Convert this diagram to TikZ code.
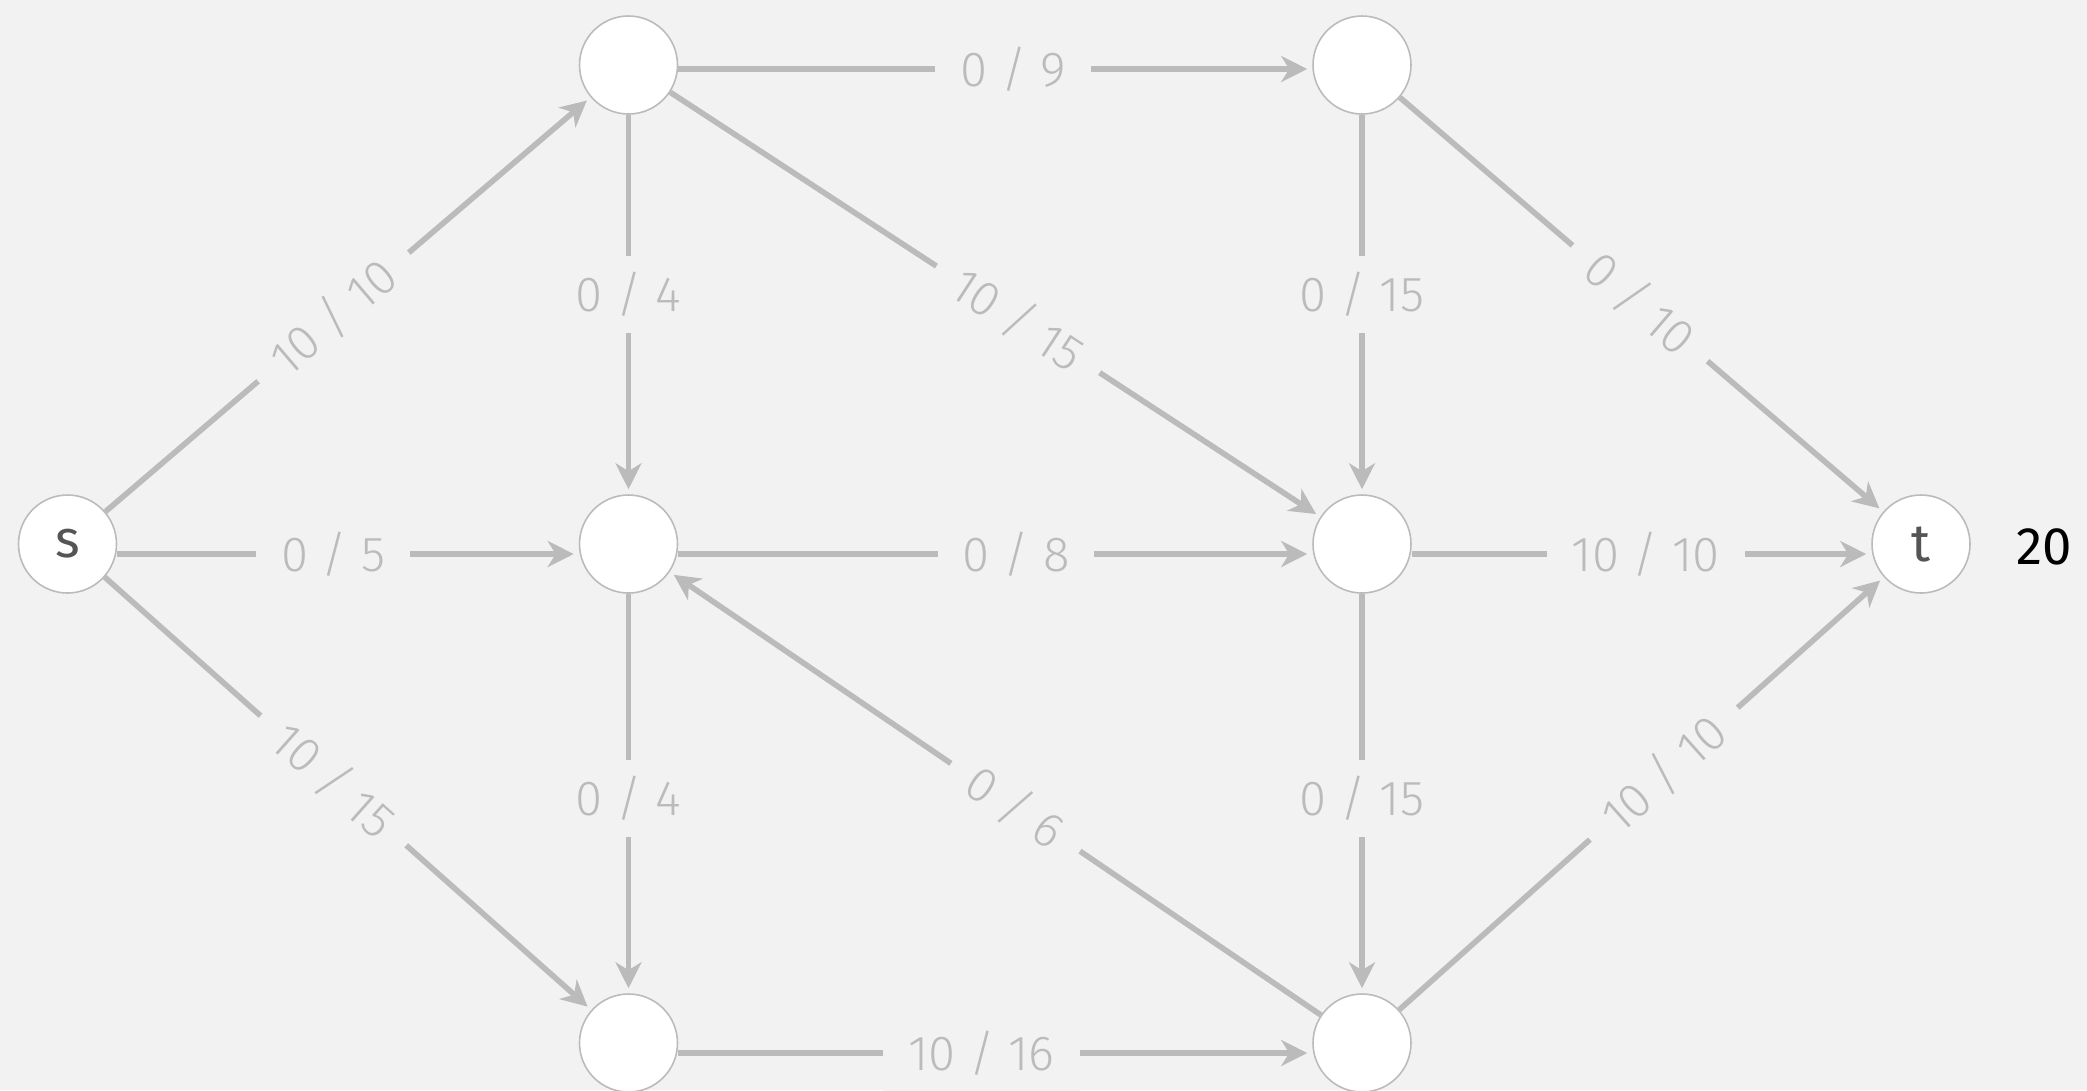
\documentclass[tikz,border=0pt]{standalone}
\usepackage{fontspec}
\setmainfont{Fira Sans Light}
\newfontfamily\namefont{Fira Sans}
\usepackage{xcolor}
\usetikzlibrary{arrows.meta}
\definecolor{bgcol}{HTML}{F2F2F2}
\definecolor{edgecol}{HTML}{BBBBBB}
\definecolor{namecol}{HTML}{555555}
\begin{document}
\begin{tikzpicture}[
    vertex/.style={circle,draw=edgecol,line width=0.45pt,fill=white,minimum size=9.8mm,
        inner sep=0pt,text=namecol,font=\namefont\fontsize{15}{16}\selectfont},
    flowedge/.style={draw=edgecol,line width=1.6pt,
        -{Stealth[length=2.6mm,width=2.6mm,inset=0.8mm]},shorten >=0.5mm},
    flowlabel/.style={fill=bgcol,text=edgecol,inner xsep=2.5mm,inner ysep=1.6mm,
        font=\fontsize{14}{16}\selectfont}]
    \fill[bgcol] (0,0) rectangle (20.87,-10.90);
    \useasboundingbox (0,0) rectangle (20.87,-10.90);

    \node[vertex] (s) at (0.675,-5.44) {s};
    \node[vertex] (v1) at (6.285,-0.65) {};
    \node[vertex] (v2) at (13.62,-0.65) {};
    \node[vertex] (v3) at (6.285,-5.44) {};
    \node[vertex] (v4) at (13.62,-5.44) {};
    \node[vertex] (v5) at (6.285,-10.43) {};
    \node[vertex] (v6) at (13.62,-10.43) {};
    \node[vertex] (t) at (19.21,-5.44) {t};
    \node[font=\namefont\fontsize{15}{16}\selectfont] (total) at (20.44,-5.47) {20};

    \draw[flowedge] (s) -- node[flowlabel,sloped,pos=0.47] {10 / 10} (v1);
    \draw[flowedge] ([yshift=-1mm]s.east) -- node[flowlabel,pos=0.468] {0 / 5} ([yshift=-1mm]v3.west);
    \draw[flowedge] (s) -- node[flowlabel,sloped,pos=0.47] {10 / 15} (v5);

    \draw[flowedge] ([yshift=-0.4mm]v1.east) -- node[flowlabel,pos=0.528] {0 / 9} ([yshift=-0.4mm]v2.west);
    \draw[flowedge] (v1) -- node[flowlabel,pos=0.474] {0 / 4} (v3);
    \draw[flowedge] (v1) -- node[flowlabel,sloped,pos=0.535] {10 / 15} (v4);

    \draw[flowedge] (v2) -- node[flowlabel,pos=0.474] {0 / 15} (v4);
    \draw[flowedge] (v2) -- node[flowlabel,sloped,pos=0.497] {0 / 10} (t);

    \draw[flowedge] ([yshift=-1mm]v3.east) -- node[flowlabel,pos=0.533] {0 / 8} ([yshift=-1mm]v4.west);
    \draw[flowedge] (v3) -- node[flowlabel,pos=0.512] {0 / 4} (v5);

    \draw[flowedge] ([yshift=-1mm]v4.east) -- node[flowlabel,pos=0.509] {10 / 10} ([yshift=-1mm]t.west);
    \draw[flowedge] (v4) -- node[flowlabel,pos=0.512] {0 / 15} (v6);

    \draw[flowedge] ([yshift=-1mm]v5.east) -- node[flowlabel,pos=0.478] {10 / 16} ([yshift=-1mm]v6.west);

    \draw[flowedge] (v6) -- node[flowlabel,sloped,pos=0.469] {0 / 6} (v3);
    \draw[flowedge] (v6) -- node[flowlabel,sloped,pos=0.546] {10 / 10} (t);
\end{tikzpicture}
\end{document}
